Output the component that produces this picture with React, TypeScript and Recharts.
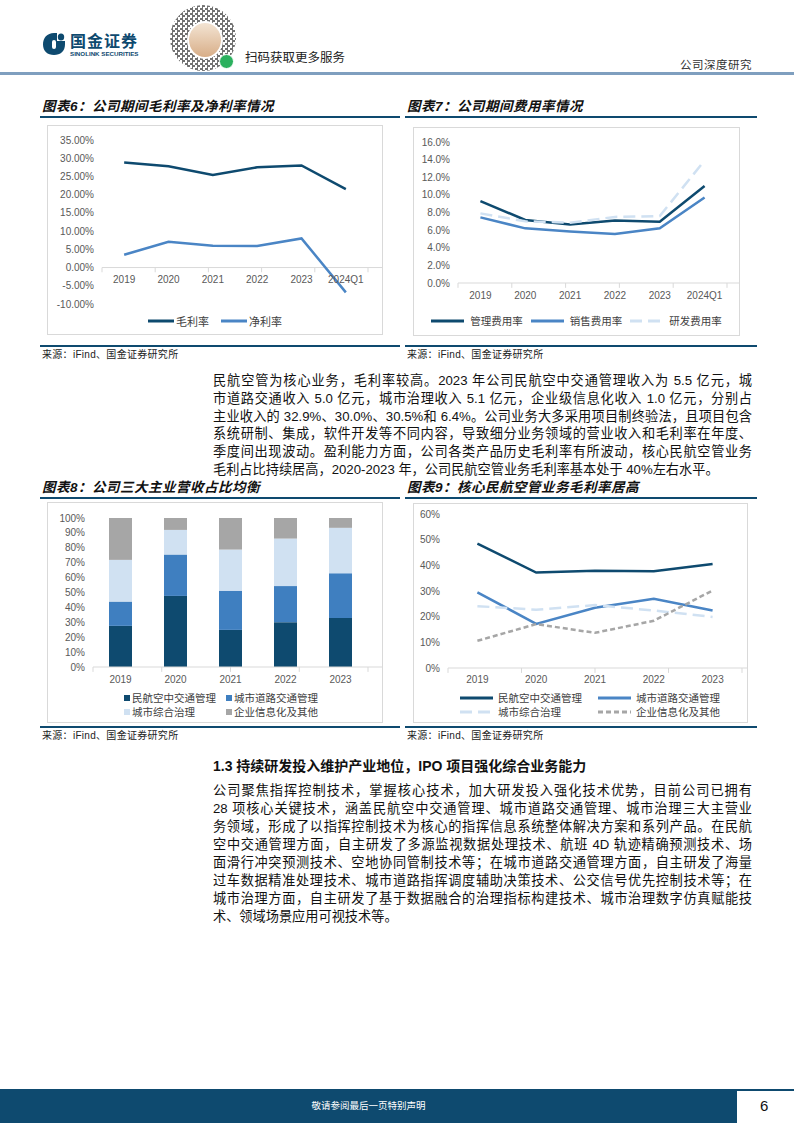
import React from 'react';
import { LineChart, Line, BarChart, Bar, XAxis, YAxis, ReferenceLine } from 'recharts';

// ---- data ----
const periods = ['2019', '2020', '2021', '2022', '2023', '2024Q1'];
const grossMargin = [28.8, 27.8, 25.4, 27.5, 28.0, 21.5];
const netMargin = [3.5, 7.1, 6.0, 5.9, 8.0, -6.8];

const mgmtRate = [9.3, 7.15, 6.65, 7.1, 6.95, 11.0];
const salesRate = [7.45, 6.2, 5.85, 5.55, 6.2, 9.7];
const rdRate = [7.9, 7.0, 6.85, 7.5, 7.6, 13.9];

const years = ['2019', '2020', '2021', '2022', '2023'];
const atcShare = [27.6, 47.7, 24.9, 30.1, 32.9];
const roadShare = [16.3, 27.8, 26.3, 24.2, 30.0];
const cityShare = [28.0, 16.5, 27.6, 31.9, 30.5];
const otherShare = [28.1, 8.0, 21.2, 13.8, 6.6];

const atcGm = [48.5, 37.2, 37.9, 37.7, 40.5];
const roadGm = [29.5, 17.2, 23.5, 27.0, 22.4];
const cityGm = [24.1, 22.7, 24.5, 22.4, 19.9];
const otherGm = [10.6, 17.1, 13.7, 18.4, 30.2];

const ticks6 = [-10, -5, 0, 5, 10, 15, 20, 25, 30, 35];
const ticks7 = [0, 2, 4, 6, 8, 10, 12, 14, 16];
const ticks8 = [0, 10, 20, 30, 40, 50, 60, 70, 80, 90, 100];
const ticks9 = [0, 10, 20, 30, 40, 50, 60];

const para1 = [
  '民航空管为核心业务，毛利率较高。2023 年公司民航空中交通管理收入为 5.5 亿元，城',
  '市道路交通收入 5.0 亿元，城市治理收入 5.1 亿元，企业级信息化收入 1.0 亿元，分别占',
  '主业收入的 32.9%、30.0%、30.5%和 6.4%。公司业务大多采用项目制终验法，且项目包含',
  '系统研制、集成，软件开发等不同内容，导致细分业务领域的营业收入和毛利率在年度、',
  '季度间出现波动。盈利能力方面，公司各类产品历史毛利率有所波动，核心民航空管业务',
  '毛利占比持续居高，2020-2023 年，公司民航空管业务毛利率基本处于 40%左右水平。',
];
const para2 = [
  '公司聚焦指挥控制技术，掌握核心技术，加大研发投入强化技术优势，目前公司已拥有',
  '28 项核心关键技术，涵盖民航空中交通管理、城市道路交通管理、城市治理三大主营业',
  '务领域，形成了以指挥控制技术为核心的指挥信息系统整体解决方案和系列产品。在民航',
  '空中交通管理方面，自主研发了多源监视数据处理技术、航班 4D 轨迹精确预测技术、场',
  '面滑行冲突预测技术、空地协同管制技术等；在城市道路交通管理方面，自主研发了海量',
  '过车数据精准处理技术、城市道路指挥调度辅助决策技术、公交信号优先控制技术等；在',
  '城市治理方面，自主研发了基于数据融合的治理指标构建技术、城市治理数字仿真赋能技',
  '术、领域场景应用可视技术等。',
];

// ---- styles ----
const dark = '#0e4a6f';
const mid = '#4a85c5';
const light = '#d0e1f2';
const gray = '#a6a6a6';
const axisColor = '#d9d9d9';
const axisText = '#595959';
const latin = '"Liberation Sans", Arial, "Noto Sans CJK SC", sans-serif';
const cjk = '"Liberation Sans", "Noto Sans CJK SC", sans-serif';

type Series = { key: string; name: string; color: string; dash?: string; values: number[] };

const series6: Series[] = [
  { key: 'gross', name: '毛利率', color: dark, values: grossMargin },
  { key: 'net', name: '净利率', color: mid, values: netMargin },
];
const series7: Series[] = [
  { key: 'mgmt', name: '管理费用率', color: dark, values: mgmtRate },
  { key: 'sales', name: '销售费用率', color: mid, values: salesRate },
  { key: 'rd', name: '研发费用率', color: light, dash: '12 6', values: rdRate },
];
const series8: Series[] = [
  { key: 'atc', name: '民航空中交通管理', color: dark, values: atcShare },
  { key: 'road', name: '城市道路交通管理', color: '#3f7fc0', values: roadShare },
  { key: 'city', name: '城市综合治理', color: light, values: cityShare },
  { key: 'other', name: '企业信息化及其他', color: gray, values: otherShare },
];
const series9: Series[] = [
  { key: 'atc', name: '民航空中交通管理', color: dark, values: atcGm },
  { key: 'road', name: '城市道路交通管理', color: mid, values: roadGm },
  { key: 'city', name: '城市综合治理', color: light, dash: '12 6', values: cityGm },
  { key: 'other', name: '企业信息化及其他', color: gray, dash: '5 3', values: otherGm },
];

const buildRows = (cats: string[], list: Series[]) =>
  cats.map((c, i) => {
    const row: Record<string, string | number> = { cat: c };
    list.forEach((s) => (row[s.key] = s.values[i]));
    return row;
  });

const xTick = (dy: number) => (props: any) => (
  <text
    x={props.x}
    y={props.y + dy}
    textAnchor="middle"
    dominantBaseline="central"
    fontSize={10}
    fill={axisText}
    fontFamily={latin}
  >
    {props.payload.value}
  </text>
);

const yTickStyle = { fontSize: 10, fill: axisText, fontFamily: latin };

// little marks between categories, hanging below the zero line
const boundaryMarks = (n: number, len: number) =>
  Array.from({ length: n + 1 }, (_, i) => (
    <ReferenceLine
      key={'b' + i}
      xAxisId="grid"
      segment={[{ x: i, y: 0 }, { x: i, y: -len }]}
      stroke={axisColor}
      ifOverflow="visible"
    />
  ));

const LineSwatch = ({ color, dash }: { color: string; dash?: string }) => (
  <svg width={33} height={6} style={{ display: 'block' }}>
    <line x1={0} y1={3} x2={33} y2={3} stroke={color} strokeWidth={3} strokeDasharray={dash} />
  </svg>
);

const SquareSwatch = ({ color }: { color: string }) => (
  <div style={{ width: 6, height: 6, background: color, marginRight: 2 }} />
);

const legendText: React.CSSProperties = { fontSize: 10.5, color: '#404040', fontFamily: cjk, whiteSpace: 'nowrap' };

const Box = ({ left, top, width, height, children }: any) => (
  <div
    style={{
      position: 'absolute',
      left,
      top,
      width,
      height,
      border: `1px solid ${axisColor}`,
      boxSizing: 'border-box',
    }}
  >
    {children}
  </div>
);

const Frame = ({ left, width, top, bottom, title }: any) => (
  <>
    <div
      style={{
        position: 'absolute',
        left: left + 2,
        top: top - 18,
        fontFamily: cjk,
        fontSize: 13.5,
        fontWeight: 'bold',
        fontStyle: 'italic',
        letterSpacing: 0.5,
        color: '#111',
        lineHeight: '18px',
        whiteSpace: 'nowrap',
      }}
    >
      {title}
    </div>
    <div style={{ position: 'absolute', left, top, width, height: 1.5, background: dark }} />
    <div style={{ position: 'absolute', left, top: bottom, width, height: 1.5, background: dark }} />
    <div
      style={{
        position: 'absolute',
        left: left + 2,
        top: bottom + 3,
        fontFamily: cjk,
        fontSize: 10,
        letterSpacing: 0.3,
        color: '#222',
        lineHeight: '14px',
      }}
    >
      来源：iFind、国金证券研究所
    </div>
  </>
);

const Chart6 = () => {
  const data = buildRows(periods, series6);
  const w = 336;
  const h = 210;
  const pad = 266 / 12;
  return (
    <Box left={47} top={125} width={w} height={h}>
      <div style={{ position: 'absolute', left: -1, top: -1 }}>
        <LineChart width={w} height={h} data={data} margin={{ top: 15, right: 15, bottom: 0, left: 0 }}>
          <XAxis dataKey="cat" height={31} axisLine={false} tickLine={false} padding={{ left: pad, right: pad }} tick={xTick(-33)} interval={0} />
          <XAxis xAxisId="grid" type="number" domain={[0, periods.length]} hide />
          <YAxis width={55} domain={[-10, 35]} ticks={ticks6} axisLine={false} tickLine={false} tick={yTickStyle} tickFormatter={(v: number) => `${v.toFixed(2)}%`} interval={0} />
          <ReferenceLine xAxisId="grid" stroke={axisColor} segment={[{ x: 0, y: 0 }, { x: periods.length, y: 0 }]} ifOverflow="visible" />
          {boundaryMarks(periods.length, 1.3)}
          {series6.map((s) => (
            <Line key={s.key} dataKey={s.key} name={s.name} stroke={s.color} strokeWidth={2.5} dot={false} isAnimationActive={false} />
          ))}
        </LineChart>
      </div>
      <div style={{ position: 'absolute', left: 0, right: 0, top: 187, display: 'flex', justifyContent: 'center', gap: 12 }}>
        {series6.map((s) => (
          <div key={s.key} style={{ display: 'flex', alignItems: 'center', gap: 2 }}>
            <div style={{ width: 26, overflow: 'hidden' }}>
              <LineSwatch color={s.color} dash={s.dash} />
            </div>
            <span style={{ ...legendText, fontSize: 11 }}>{s.name}</span>
          </div>
        ))}
      </div>
    </Box>
  );
};

const Chart7 = () => {
  const data = buildRows(periods, series7);
  const w = 327;
  const h = 209;
  const pad = 269 / 12;
  return (
    <Box left={413} top={127} width={w} height={h}>
      <div style={{ position: 'absolute', left: -1, top: -1 }}>
        <LineChart width={w} height={h} data={data} margin={{ top: 15, right: 13, bottom: 0, left: 0 }}>
          <XAxis dataKey="cat" height={53} axisLine={false} tickLine={false} padding={{ left: pad, right: pad }} tick={xTick(4)} interval={0} />
          <XAxis xAxisId="grid" type="number" domain={[0, periods.length]} hide />
          <YAxis width={45} domain={[0, 16]} ticks={ticks7} axisLine={false} tickLine={false} tick={yTickStyle} tickFormatter={(v: number) => `${v.toFixed(1)}%`} interval={0} />
          <ReferenceLine xAxisId="grid" segment={[{ x: 0, y: 0 }, { x: periods.length, y: 0 }]} stroke={axisColor} ifOverflow="visible" />
          {boundaryMarks(periods.length, 0.55)}
          {series7.map((s) => (
            <Line key={s.key} dataKey={s.key} name={s.name} stroke={s.color} strokeWidth={2.5} strokeDasharray={s.dash} dot={false} isAnimationActive={false} />
          ))}
        </LineChart>
      </div>
      <div style={{ position: 'absolute', left: 0, right: 0, top: 185, display: 'flex', justifyContent: 'center', gap: 8 }}>
        {series7.map((s) => (
          <div key={s.key} style={{ display: 'flex', alignItems: 'center', gap: 6 }}>
            <LineSwatch color={s.color} dash={s.dash} />
            <span style={legendText}>{s.name}</span>
          </div>
        ))}
      </div>
    </Box>
  );
};

const Chart8 = () => {
  const data = buildRows(years, series8);
  const w = 336;
  const h = 221;
  return (
    <Box left={47} top={502} width={w} height={h}>
      <div style={{ position: 'absolute', left: -1, top: -1 }}>
        <BarChart width={w} height={h} data={data} margin={{ top: 16, right: 15, bottom: 0, left: 0 }}>
          <XAxis dataKey="cat" height={56} axisLine={false} tickLine={false} tick={xTick(4)} interval={0} />
          <XAxis xAxisId="grid" type="number" domain={[0, years.length]} hide />
          <YAxis width={46} domain={[0, 100]} ticks={ticks8} axisLine={false} tickLine={false} tick={yTickStyle} tickFormatter={(v: number) => `${v}%`} interval={0} />
          {series8.map((s) => (
            <Bar key={s.key} dataKey={s.key} name={s.name} stackId="a" fill={s.color} barSize={23} isAnimationActive={false} />
          ))}
          <ReferenceLine xAxisId="grid" segment={[{ x: 0, y: 0 }, { x: years.length, y: 0 }]} stroke={axisColor} ifOverflow="visible" />
          {boundaryMarks(years.length, 3.3)}
        </BarChart>
      </div>
      <div
        style={{
          position: 'absolute',
          left: 76,
          top: 188,
          display: 'grid',
          gridTemplateColumns: '102px 110px',
          rowGap: 1,
        }}
      >
        {series8.map((s) => (
          <div key={s.key} style={{ display: 'flex', alignItems: 'center', height: 13 }}>
            <SquareSwatch color={s.color} />
            <span style={legendText}>{s.name}</span>
          </div>
        ))}
      </div>
    </Box>
  );
};

const Chart9 = () => {
  const data = buildRows(years, series9);
  const w = 335;
  const h = 220;
  const pad = 294 / 10;
  return (
    <Box left={413} top={503} width={w} height={h}>
      <div style={{ position: 'absolute', left: -1, top: -1 }}>
        <LineChart width={w} height={h} data={data} margin={{ top: 11, right: 6, bottom: 0, left: 0 }}>
          <XAxis dataKey="cat" height={55} axisLine={false} tickLine={false} padding={{ left: pad, right: pad }} tick={xTick(3)} interval={0} />
          <XAxis xAxisId="grid" type="number" domain={[0, years.length]} hide />
          <YAxis width={35} domain={[0, 60]} ticks={ticks9} axisLine={false} tickLine={false} tick={yTickStyle} tickFormatter={(v: number) => `${v}%`} interval={0} />
          <ReferenceLine xAxisId="grid" segment={[{ x: 0, y: 0 }, { x: years.length, y: 0 }]} stroke={axisColor} ifOverflow="visible" />
          {boundaryMarks(years.length, 1.9)}
          {series9.map((s) => (
            <Line key={s.key} dataKey={s.key} name={s.name} stroke={s.color} strokeWidth={2.5} strokeDasharray={s.dash} dot={false} isAnimationActive={false} />
          ))}
        </LineChart>
      </div>
      <div
        style={{
          position: 'absolute',
          left: 46,
          top: 187,
          display: 'grid',
          gridTemplateColumns: '138px 140px',
          rowGap: 1,
        }}
      >
        {series9.map((s) => (
          <div key={s.key} style={{ display: 'flex', alignItems: 'center', gap: 5, height: 13 }}>
            <LineSwatch color={s.color} dash={s.dash} />
            <span style={legendText}>{s.name}</span>
          </div>
        ))}
      </div>
    </Box>
  );
};

const bodyLine = (text: string, last: boolean, key: number, lh: number): React.ReactNode => (
  <div
    key={key}
    style={{
      whiteSpace: 'nowrap',
      textAlign: 'justify',
      textAlignLast: last ? 'left' : 'justify',
      height: lh,
      lineHeight: `${lh}px`,
    }}
  >
    {text}
  </div>
);

const Paragraph = ({ lines, top, lh }: { lines: string[]; top: number; lh: number }) => (
  <div
    style={{
      position: 'absolute',
      left: 213,
      top,
      width: 539,
      fontFamily: cjk,
      fontSize: 13.2,
      color: '#111',
    }}
  >
    {lines.map((l, i) => bodyLine(l, i === lines.length - 1, i, lh))}
  </div>
);

const Header = () => (
  <>
    <svg style={{ position: 'absolute', left: 42, top: 32 }} width={24} height={24} viewBox="0 0 24 24">
      <path d="M12 1 C5 1 1 6 1 12.5 C1 19 5.5 23 12 23 C18.5 23 23 19 23 12.5 L23 9 L15 9 L15 1 Z" fill={dark} />
      <ellipse cx={19} cy={5} rx={3.2} ry={3.6} fill={dark} />
      <rect x={10} y={8} width={4} height={9} rx={2} fill="#fff" />
    </svg>
    <div style={{ position: 'absolute', left: 70, top: 32, fontFamily: cjk, fontWeight: 'bold', fontSize: 16, color: dark, letterSpacing: 1, lineHeight: '20px' }}>
      国金证券
    </div>
    <div style={{ position: 'absolute', left: 70, top: 50, fontFamily: latin, fontWeight: 'bold', fontSize: 6.2, color: dark, lineHeight: '7px', whiteSpace: 'nowrap' }}>
      SINOLINK SECURITIES
    </div>
    <div
      style={{
        position: 'absolute',
        left: 170,
        top: 5,
        width: 66,
        height: 66,
        borderRadius: '50%',
        background: 'repeating-conic-gradient(#444 0 25%, #fff 0 50%) 0 0 / 5px 5px',
        opacity: 0.75,
      }}
    />
    <div style={{ position: 'absolute', left: 187, top: 21, width: 32, height: 34, borderRadius: '50%', background: 'linear-gradient(#f3e4d3, #d8ae88)', border: '2px solid #fff' }} />
    <div style={{ position: 'absolute', left: 219, top: 54, width: 13, height: 13, borderRadius: '50%', background: '#2bb05e', border: '1.5px solid #fff' }} />
    <div style={{ position: 'absolute', left: 245, top: 49, fontFamily: cjk, fontSize: 12.5, color: '#222', lineHeight: '18px', whiteSpace: 'nowrap' }}>
      扫码获取更多服务
    </div>
    <div style={{ position: 'absolute', left: 680, top: 57, fontFamily: cjk, fontSize: 11.5, color: '#333', lineHeight: '16px', letterSpacing: 0.5 }}>
      公司深度研究
    </div>
    <div style={{ position: 'absolute', left: 0, top: 72, width: 794, height: 3, background: '#7f9fbf' }} />
  </>
);

const Footer = () => (
  <>
    <div style={{ position: 'absolute', left: 0, top: 1089, width: 794, height: 1.5, background: dark }} />
    <div style={{ position: 'absolute', left: 0, top: 1089, width: 737, height: 34, background: dark }} />
    <div style={{ position: 'absolute', left: 0, width: 737, top: 1099, textAlign: 'center', fontFamily: cjk, fontSize: 9.5, color: '#fff', lineHeight: '14px' }}>
      敬请参阅最后一页特别声明
    </div>
    <div style={{ position: 'absolute', left: 760, top: 1097, fontFamily: latin, fontSize: 15, color: '#111', lineHeight: '18px' }}>6</div>
  </>
);

export default function App() {
  return (
    <div style={{ position: 'absolute', left: 0, top: 0, width: 794, height: 1123, background: '#fff', overflow: 'hidden' }}>
      <Header />
      <Frame left={40} width={360} top={116} bottom={345} title="图表6：公司期间毛利率及净利率情况" />
      <Frame left={405} width={352} top={116} bottom={345} title="图表7：公司期间费用率情况" />
      <Chart6 />
      <Chart7 />
      <Paragraph lines={para1} top={372} lh={17.8} />
      <Frame left={40} width={360} top={497} bottom={726} title="图表8：公司三大主业营收占比均衡" />
      <Frame left={405} width={352} top={497} bottom={726} title="图表9：核心民航空管业务毛利率居高" />
      <Chart8 />
      <Chart9 />
      <div style={{ position: 'absolute', left: 213, top: 757, fontFamily: cjk, fontWeight: 'bold', fontSize: 14, color: '#111', lineHeight: '18px', whiteSpace: 'nowrap' }}>
        1.3 持续研发投入维护产业地位，IPO 项目强化综合业务能力
      </div>
      <Paragraph lines={para2} top={782} lh={18} />
      <Footer />
    </div>
  );
}
